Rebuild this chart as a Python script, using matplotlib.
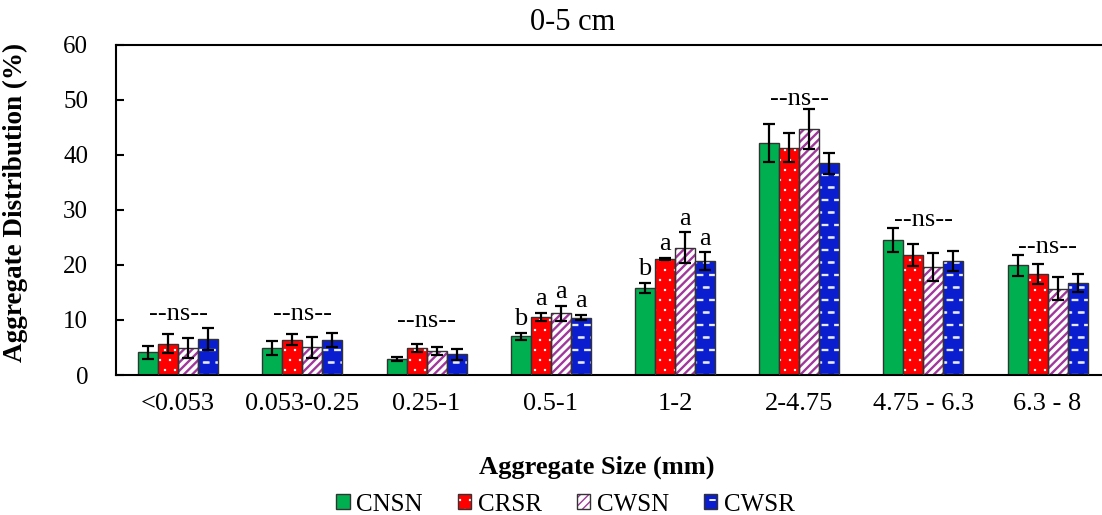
import numpy as np
import matplotlib
matplotlib.use("Agg")
import matplotlib.pyplot as plt
import matplotlib.hatch as mhatch
from matplotlib.path import Path
from matplotlib.legend_handler import HandlerTuple

# ---------------- data ----------------
categories = ['<0.053', '0.053-0.25', '0.25-1', '0.5-1', '1-2', '2-4.75', '4.75 - 6.3', '6.3 - 8']
series_names = ['CNSN', 'CRSR', 'CWSN', 'CWSR']
CNSN = [4.1, 4.9, 2.9, 7.0, 15.8, 42.1, 24.5, 19.9]
CNSN_err = [1.25, 1.3, 0.3, 0.6, 0.9, 3.4, 2.2, 1.9]
CRSR = [5.7, 6.4, 4.9, 10.5, 21.1, 41.3, 21.7, 18.3]
CRSR_err = [1.7, 1.0, 0.7, 0.75, 0.2, 2.7, 2.0, 1.85]
CWSN = [4.9, 5.0, 4.3, 11.2, 23.1, 44.6, 19.6, 15.7]
CWSN_err = [1.75, 1.85, 0.7, 1.35, 2.8, 3.65, 2.5, 2.1]
CWSR = [6.45, 6.4, 3.75, 10.4, 20.7, 38.4, 20.7, 16.7]
CWSR_err = [2.0, 1.25, 1.05, 0.5, 1.55, 1.95, 1.75, 1.6]
# significance labels
ns_groups = ['<0.053', '0.053-0.25', '0.25-1', '2-4.75', '4.75 - 6.3', '6.3 - 8']
ns_label_y = [10.0, 10.0, 8.8, 49.1, 27.1, 22.2]
letter_groups = ['0.5-1', '1-2']
letters = [['b', 'a', 'a', 'a'], ['b', 'a', 'a', 'a']]
yticks = [0, 10, 20, 30, 40, 50, 60]

values = [CNSN, CRSR, CWSN, CWSR]
errors = [CNSN_err, CRSR_err, CWSN_err, CWSR_err]


# ------------- custom hatches (row counts must be even) -------------
_SQ_CODES = np.array([Path.MOVETO, Path.LINETO, Path.LINETO,
                      Path.LINETO, Path.CLOSEPOLY], dtype=Path.code_type)


class DashHatch(mhatch.Shapes):
    """short white dashes, triggered by 'O'"""
    filled = True
    size = 1.0

    def __init__(self, hatch, density):
        self.num_rows = hatch.count('O') * 8
        self.shape_vertices = np.array([[-0.2, -0.02], [0.2, -0.02], [0.2, 0.02],
                                        [-0.2, 0.02], [-0.2, -0.02]])
        self.shape_codes = _SQ_CODES
        super().__init__(hatch, density)


class DotHatch(mhatch.Shapes):
    """small sparse square dots, triggered by '*'"""
    filled = True
    size = 1.0

    def __init__(self, hatch, density):
        self.num_rows = hatch.count('*') * 10
        self.shape_vertices = np.array([[-0.04, -0.04], [0.04, -0.04], [0.04, 0.04],
                                        [-0.04, 0.04], [-0.04, -0.04]])
        self.shape_codes = _SQ_CODES
        super().__init__(hatch, density)


_new_types = []
for t in mhatch._hatch_types:
    if t is mhatch.LargeCircles:
        _new_types.append(DashHatch)
    elif t is mhatch.Stars:
        _new_types.append(DotHatch)
    else:
        _new_types.append(t)
mhatch._hatch_types = _new_types

plt.rcParams['font.family'] = ['Liberation Serif', 'DejaVu Serif']

face_colors = ['#00B050', '#FF0000', 'white', '#0A1ECF']
hatch_colors = [None, 'white', '#A0389C', '#E6EAFF']
hatches = [None, '*', '////', 'O']
hatch_lw = [1.0, 1.0, 1.7, 1.3]
edge_col = '#333333'

fig = plt.figure(figsize=(11.02, 5.15), dpi=100)
ax = fig.add_axes([116 / 1102, 1 - 375 / 515, 993.7 / 1102, 330.5 / 515])

x = np.arange(len(categories))
bw = 0.161
offsets = (np.arange(4) - 1.5) * bw

handles = []
for i in range(4):
    xs = x + offsets[i]
    if hatches[i] is None:
        b = ax.bar(xs, values[i], bw, color=face_colors[i], edgecolor=edge_col,
                   linewidth=1.0, zorder=2)
        handles.append(b.patches[0])
    else:
        with plt.rc_context({'hatch.linewidth': hatch_lw[i]}):
            b1 = ax.bar(xs, values[i], bw, color=face_colors[i], edgecolor=hatch_colors[i],
                        hatch=hatches[i], linewidth=0, zorder=2)
        b2 = ax.bar(xs, values[i], bw, fill=False, edgecolor=edge_col,
                    linewidth=1.0, zorder=3)
        handles.append((b1.patches[0], b2.patches[0]))
    ax.errorbar(xs, values[i], yerr=errors[i], fmt='none', ecolor='black',
                elinewidth=1.6, capsize=4.5, capthick=1.6, zorder=4)

# ns labels
for g, yv in zip(ns_groups, ns_label_y):
    gi = categories.index(g)
    ax.text(gi, yv, '--ns--', ha='center', va='baseline', fontsize=19)

# letters
for g, labs in zip(letter_groups, letters):
    gi = categories.index(g)
    for i in range(4):
        top = values[i][gi] + errors[i][gi]
        ax.text(gi + offsets[i], top + 1.4, labs[i], ha='center', va='baseline', fontsize=19)

ax.set_xlim(-0.5, len(categories) - 0.5)
ax.set_ylim(0, 60)
ax.set_yticks(yticks)
ax.set_xticks(x)
ax.set_xticklabels(categories, fontsize=19)
ax.tick_params(axis='x', length=0, pad=13)
ax.tick_params(axis='y', direction='in', length=6, width=1.5, labelsize=18, pad=20)
for s in ['left', 'bottom', 'top']:
    ax.spines[s].set_linewidth(1.5)
ax.spines['right'].set_visible(False)

ax.set_ylabel('Aggregate Distribution (%)', fontsize=19.5, fontweight='bold')
ax.yaxis.set_label_coords(-0.0886, 0.522)
ax.set_xlabel('Aggregate Size (mm)', fontsize=19, fontweight='bold')
ax.xaxis.set_label_coords(0.484, -0.245)

fig.text(573 / 1102, 1 - 22 / 515, '0-5 cm', ha='center', va='center', fontsize=22)

fig.legend(handles, series_names, loc='center', bbox_to_anchor=(0.513, 0.02),
           ncol=4, frameon=False, fontsize=18, handlelength=0.55, handleheight=0.55,
           handletextpad=0.25, columnspacing=1.4,
           handler_map={tuple: HandlerTuple(ndivide=1, pad=0)})

fig.savefig('out.png', dpi=100)
